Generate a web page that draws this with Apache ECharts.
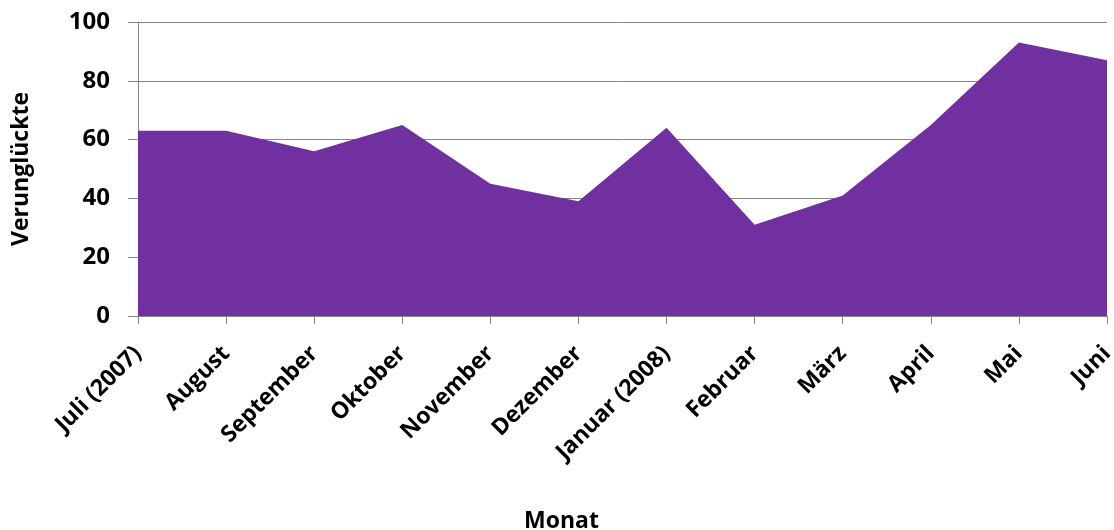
<!DOCTYPE html>
<html>
<head>
<meta charset="utf-8">
<script src="https://cdn.jsdelivr.net/npm/echarts@6/dist/echarts.min.js"></script>
<style>
  html, body { margin: 0; padding: 0; background: #ffffff; }
  #chart { width: 1114px; height: 530px; }
</style>
</head>
<body>
<div id="chart"></div>
<script>
// Monthly number of casualties, July 2007 - June 2008
const months = ['Juli (2007)', 'August', 'September', 'Oktober', 'November', 'Dezember',
                'Januar (2008)', 'Februar', 'März', 'April', 'Mai', 'Juni'];
const casualties = [63, 63, 56, 65, 45, 39, 64, 31, 41, 65, 93, 87];
const yTicks = { min: 0, max: 100, interval: 20 };

const FONT = '"Open Sans"';
const AXIS_GRAY = '#868686';

const chart = echarts.init(document.getElementById('chart'), null, { renderer: 'canvas' });
chart.setOption({
  animation: false,
  backgroundColor: '#ffffff',
  grid: {
    left: 138, right: 7, top: 22, bottom: 214,
    containLabel: false,
    outerBoundsMode: 'none'
  },
  xAxis: {
    type: 'category',
    data: months,
    boundaryGap: false,
    name: 'Monat',
    nameLocation: 'middle',
    nameGap: 194,
    nameTextStyle: {
      fontFamily: FONT, fontWeight: 'bold', fontSize: 23, color: '#000',
      // the title sits centred under the whole chart, left of the plot centre
      padding: [0, 122, 0, 0]
    },
    axisLine: { show: true, lineStyle: { color: AXIS_GRAY, width: 1 } },
    axisTick: { show: true, alignWithLabel: true, length: 8, lineStyle: { color: AXIS_GRAY } },
    axisLabel: {
      interval: 0,
      rotate: 45,
      margin: 34,
      fontFamily: FONT,
      fontWeight: 'bold',
      fontSize: 23,
      color: '#000'
    },
    splitLine: { show: false }
  },
  yAxis: {
    type: 'value',
    min: yTicks.min,
    max: yTicks.max,
    interval: yTicks.interval,
    name: 'Verunglückte',
    nameLocation: 'middle',
    nameGap: 105,
    nameRotate: 90,
    nameTextStyle: { fontFamily: FONT, fontWeight: 'bold', fontSize: 23, color: '#000' },
    axisLine: { show: true, lineStyle: { color: AXIS_GRAY, width: 1 } },
    axisTick: { show: true, length: 10, lineStyle: { color: AXIS_GRAY } },
    axisLabel: {
      margin: 28,
      fontFamily: FONT,
      fontWeight: 'bold',
      fontSize: 24,
      color: '#000'
    },
    splitLine: { show: true, lineStyle: { color: AXIS_GRAY, width: 1 } }
  },
  series: [{
    type: 'line',
    data: casualties,
    symbol: 'none',
    lineStyle: { width: 0 },
    areaStyle: { color: '#7030A0', opacity: 1 },
    itemStyle: { color: '#7030A0' },
    z: 1
  }]
});
</script>
</body>
</html>
